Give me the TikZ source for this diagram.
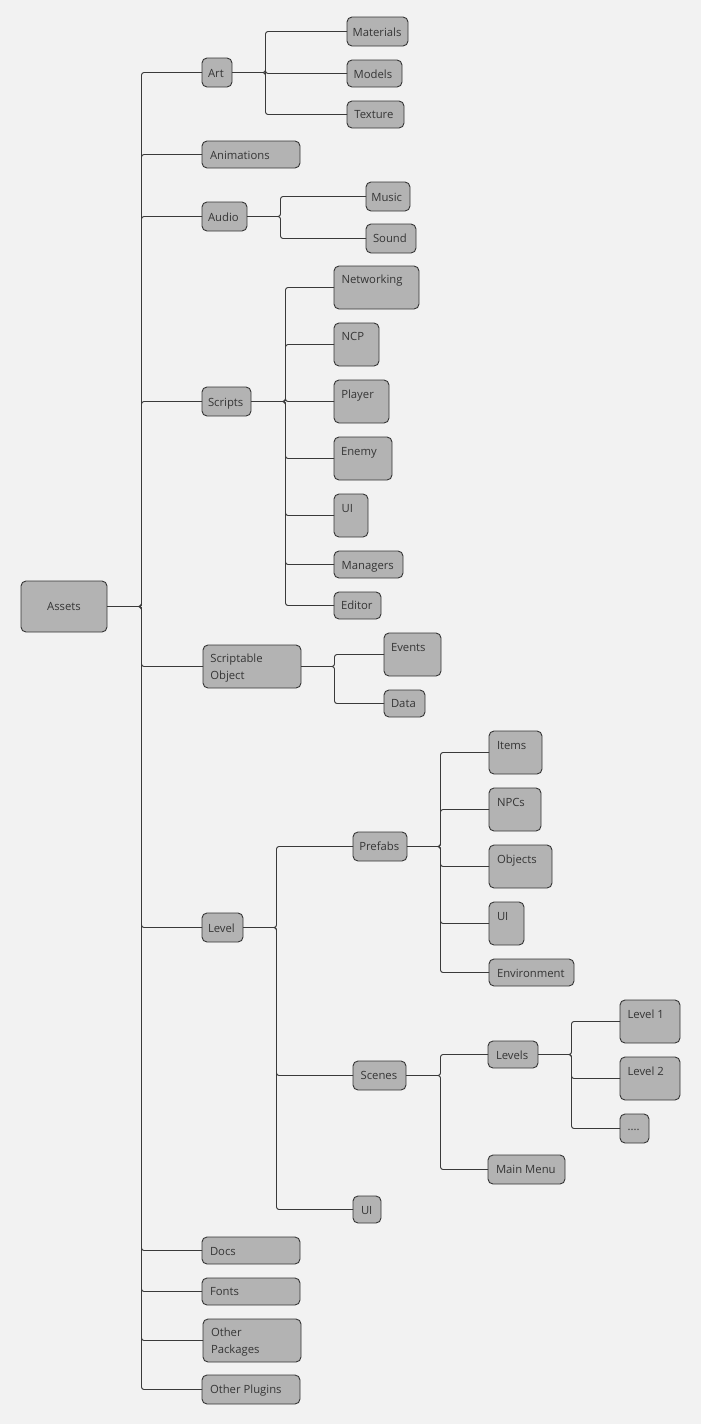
\documentclass[tikz,border=0pt]{standalone}
\usepackage{fontspec}
\setmainfont{Open Sans}
\definecolor{bg}{HTML}{F2F2F2}
\definecolor{boxfill}{HTML}{B3B3B3}
\definecolor{boxline}{HTML}{363636}
\definecolor{txtc}{HTML}{353535}
\definecolor{linec}{HTML}{3A3A3A}
\tikzset{
  box/.style={draw=boxline, fill=boxfill, rounded corners=5pt, line width=0.9pt, inner sep=0pt, outer sep=0pt},
  txt/.style={text=txtc, font=\fontsize{11.3}{16.5}\selectfont, inner sep=0pt, outer sep=0pt},
  conn/.style={draw=linec, line width=0.95pt, rounded corners=2.5pt},
}
\newcommand\bx[8]{%
  \node[box, minimum width={(#4-#2)*1pt}, minimum height={(#5-#3)*1pt}] (#1) at ({(#2+#4)/2},{(#3+#5)/2}) {};
  \node[txt, anchor=base west] (#1-t) at (#6,#7+4) {#8};
}
\begin{document}
\begin{tikzpicture}[x=1pt,y=-1pt]
\fill[bg] (0,0) rectangle (701,1424);
\useasboundingbox (0,0) rectangle (701,1424);

% root
\node[box, minimum width=86pt, minimum height=51pt] (assets) at (64,606.5) {};
\node[txt, anchor=base] (assets-t) at (64,610.7) {Assets};

\bx{art}{202}{58}{232}{87}{208}{73}{Art}
\bx{materials}{347}{17}{408}{46}{352.6}{32}{Materials}
\bx{models}{347}{60}{402}{87}{353.6}{74}{Models}
\bx{texture}{347}{101}{404}{128}{354.3}{114.5}{Texture}
\bx{animations}{202}{141}{300}{168}{210}{155}{Animations}
\bx{audio}{202}{202}{247}{231}{208}{217}{Audio}
\bx{music}{366}{182}{410}{211}{371.3}{197}{Music}
\bx{sound}{366}{224}{416}{253}{373}{238.5}{Sound}
\bx{scripts}{202}{387}{251}{416}{208}{402}{Scripts}
\bx{networking}{334}{266}{419}{309}{341.6}{279}{Networking}
\bx{ncp}{334}{323}{379}{366}{341.6}{336}{NCP}
\bx{player}{334}{380}{389}{423}{341.3}{394}{Player}
\bx{enemy}{334}{437}{392}{480}{341}{451.3}{Enemy}
\bx{scui}{334}{494}{368}{537}{341.6}{508.3}{UI}
\bx{managers}{334}{551}{403}{578}{341.6}{565}{Managers}
\bx{editor}{334}{592}{381}{619}{341}{605.7}{Editor}
\node[box, minimum width=98pt, minimum height=43pt] (so) at (252,666.5) {};
\node[txt, anchor=west, align=left] (so-t) at (210.3,668.3) {Scriptable\\Object};
\bx{events}{384}{633}{441}{676}{391}{647}{Events}
\bx{data}{384}{690}{425}{717}{391}{703.7}{Data}
\bx{level}{202}{913}{243}{942}{208}{928}{Level}
\bx{prefabs}{353}{832}{407}{861}{359.3}{846.7}{Prefabs}
\bx{items}{489}{731}{542}{774}{497}{745}{Items}
\bx{npcs}{489}{788}{541}{831}{497}{802}{NPCs}
\bx{objects}{489}{845}{552}{888}{497}{859}{Objects}
\bx{pui}{489}{902}{524}{945}{497}{916}{UI}
\bx{environment}{489}{959}{574}{986}{497}{973}{Environment}
\bx{scenes}{353}{1061}{406}{1090}{360.6}{1075.5}{Scenes}
\bx{levels}{488}{1041}{538}{1068}{496}{1055}{Levels}
\bx{lone}{620}{1000}{680}{1043}{627.6}{1014}{Level 1}
\bx{ltwo}{620}{1057}{680}{1100}{627.6}{1071}{Level 2}
\bx{dots}{620}{1114}{649}{1143}{627.6}{1126.5}{....}
\bx{mainmenu}{488}{1155}{565}{1184}{496}{1169.5}{Main Menu}
\bx{lui}{353}{1196}{381}{1223}{361}{1210}{UI}
\bx{docs}{202}{1237}{300}{1264}{210}{1251}{Docs}
\bx{fonts}{202}{1278}{300}{1305}{210}{1291}{Fonts}
\node[box, minimum width=98pt, minimum height=43pt] (otherpk) at (252,1340.5) {};
\node[txt, anchor=west, align=left, font=\fontsize{11.3}{17}\selectfont] (otherpk-t) at (211,1341.6) {Other\\Packages};
\bx{otherpl}{202}{1375}{300}{1404}{210}{1389.5}{Other Plugins}

% fork points
\coordinate (assetsF) at (141.5,0 |- assets.east);
\coordinate (artF) at (265.5,0 |- art.east);
\coordinate (audioF) at (280.5,0 |- audio.east);
\coordinate (scriptsF) at (285.5,0 |- scripts.east);
\coordinate (soF) at (334.5,0 |- so.east);
\coordinate (levelF) at (276.5,0 |- level.east);
\coordinate (prefabsF) at (440.5,0 |- prefabs.east);
\coordinate (scenesF) at (440.5,0 |- scenes.east);
\coordinate (levelsF) at (571.5,0 |- levels.east);

\foreach \c in {art,animations,audio,scripts,so,level,docs,fonts,otherpk,otherpl}
  \draw[conn] (assets.east) -- (assetsF) |- (\c.west);
\foreach \c in {materials,models,texture}
  \draw[conn] (art.east) -- (artF) |- (\c.west);
\foreach \c in {music,sound}
  \draw[conn] (audio.east) -- (audioF) |- (\c.west);
\foreach \c in {networking,ncp,player,enemy,scui,managers,editor}
  \draw[conn] (scripts.east) -- (scriptsF) |- (\c.west);
\foreach \c in {events,data}
  \draw[conn] (so.east) -- (soF) |- (\c.west);
\foreach \c in {prefabs,scenes,lui}
  \draw[conn] (level.east) -- (levelF) |- (\c.west);
\foreach \c in {items,npcs,objects,pui,environment}
  \draw[conn] (prefabs.east) -- (prefabsF) |- (\c.west);
\foreach \c in {levels,mainmenu}
  \draw[conn] (scenes.east) -- (scenesF) |- (\c.west);
\foreach \c in {lone,ltwo,dots}
  \draw[conn] (levels.east) -- (levelsF) |- (\c.west);
\end{tikzpicture}
\end{document}
